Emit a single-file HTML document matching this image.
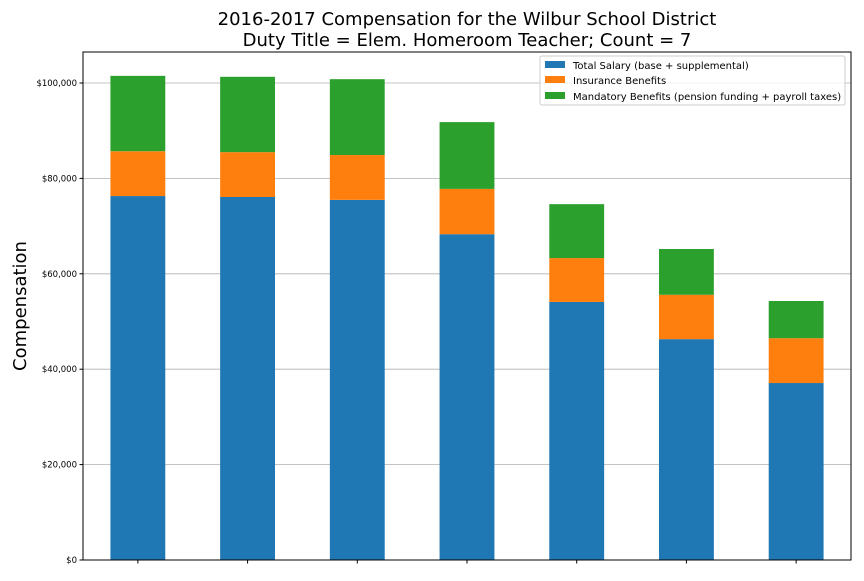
<!DOCTYPE html>
<html><head><meta charset="utf-8"><style>
body{margin:0;background:#fff;}
svg{font-family:"DejaVu Sans","Liberation Sans",sans-serif;}
</style></head><body>
<svg id="chart" width="864" height="576">
<text x="467" y="25" font-size="18" text-anchor="middle">2016-2017 Compensation for the Wilbur School District</text>
<text x="467" y="46" font-size="18" text-anchor="middle">Duty Title = Elem. Homeroom Teacher; Count = 7</text>
<text transform="translate(26,306) rotate(-90)" font-size="18" text-anchor="middle">Compensation</text>
<g id="grid"></g><g id="bars"></g><g id="ticks"></g>
<rect x="83" y="52" width="768" height="508" fill="none" stroke="#000" stroke-width="1"/>
<g>
<rect x="540" y="56" width="305" height="49" fill="#fff" fill-opacity="0.8" stroke="#ccc" rx="2"/>
<g><rect x="545" y="61" width="20" height="7" fill="#1f77b4"/><text x="573" y="69" font-size="10">Total Salary (base + supplemental)</text></g>
<g><rect x="545" y="76" width="20" height="7" fill="#ff7f0e"/><text x="573" y="84" font-size="10">Insurance Benefits</text></g>
<g><rect x="545" y="92" width="20" height="7" fill="#2ca02c"/><text x="573" y="100" font-size="10">Mandatory Benefits (pension funding + payroll taxes)</text></g>
</g>
</svg>
<script>
const categories=["T1","T2","T3","T4","T5","T6","T7"];
const salary=[76300,76100,75500,68300,54100,46300,37100];
const insurance=[9400,9400,9400,9500,9200,9300,9400];
const mandatory=[15800,15800,15900,14000,11300,9600,7800];
const yTicks=[0,20000,40000,60000,80000,100000];
const yTickLabels=["$0","$20,000","$40,000","$60,000","$80,000","$100,000"];
const NS="http://www.w3.org/2000/svg";
const L=83,R=851,T=52,B=560,yMax=106500;
function y(v){return B-v/yMax*(B-T);}
const slot=(R-L)/categories.length;
function xc(i){return L+slot*(i+0.5);}
function mk(tag,attrs,parent){const e=document.createElementNS(NS,tag);for(const k in attrs)e.setAttribute(k,attrs[k]);document.getElementById(parent).appendChild(e);return e;}
yTicks.forEach((t,i)=>{
 if(t>0){const g=mk('line',{x1:L,x2:R,y1:y(t),y2:y(t),stroke:'#b0b0b0','stroke-width':0.8},'grid');
 
 }
 const tk=mk('line',{x1:L-3.5,x2:L,y1:y(t),y2:y(t),stroke:'#000'},'ticks');
 
 
 const tx=mk('text',{x:L-6,y:y(t)+3,'font-size':8.5,'text-anchor':'end'},'ticks');
 tx.textContent=yTickLabels[i];
 
 
});
const series=[[salary,'#1f77b4','bar-salary'],[insurance,'#ff7f0e','bar-insurance'],[mandatory,'#2ca02c','bar-mandatory']];
categories.forEach((c,i)=>{
 let base=0;const w=slot*0.5;
 series.forEach(([arr,col,name])=>{
  const r=mk('rect',{x:xc(i)-w/2,y:y(base+arr[i]),width:w,height:y(base)-y(base+arr[i]),fill:col},'bars');
  
  
  base+=arr[i];
 });
 const tk=mk('line',{x1:xc(i),x2:xc(i),y1:B,y2:B+3.5,stroke:'#000'},'ticks');
 
 
});
</script>
</body></html>
